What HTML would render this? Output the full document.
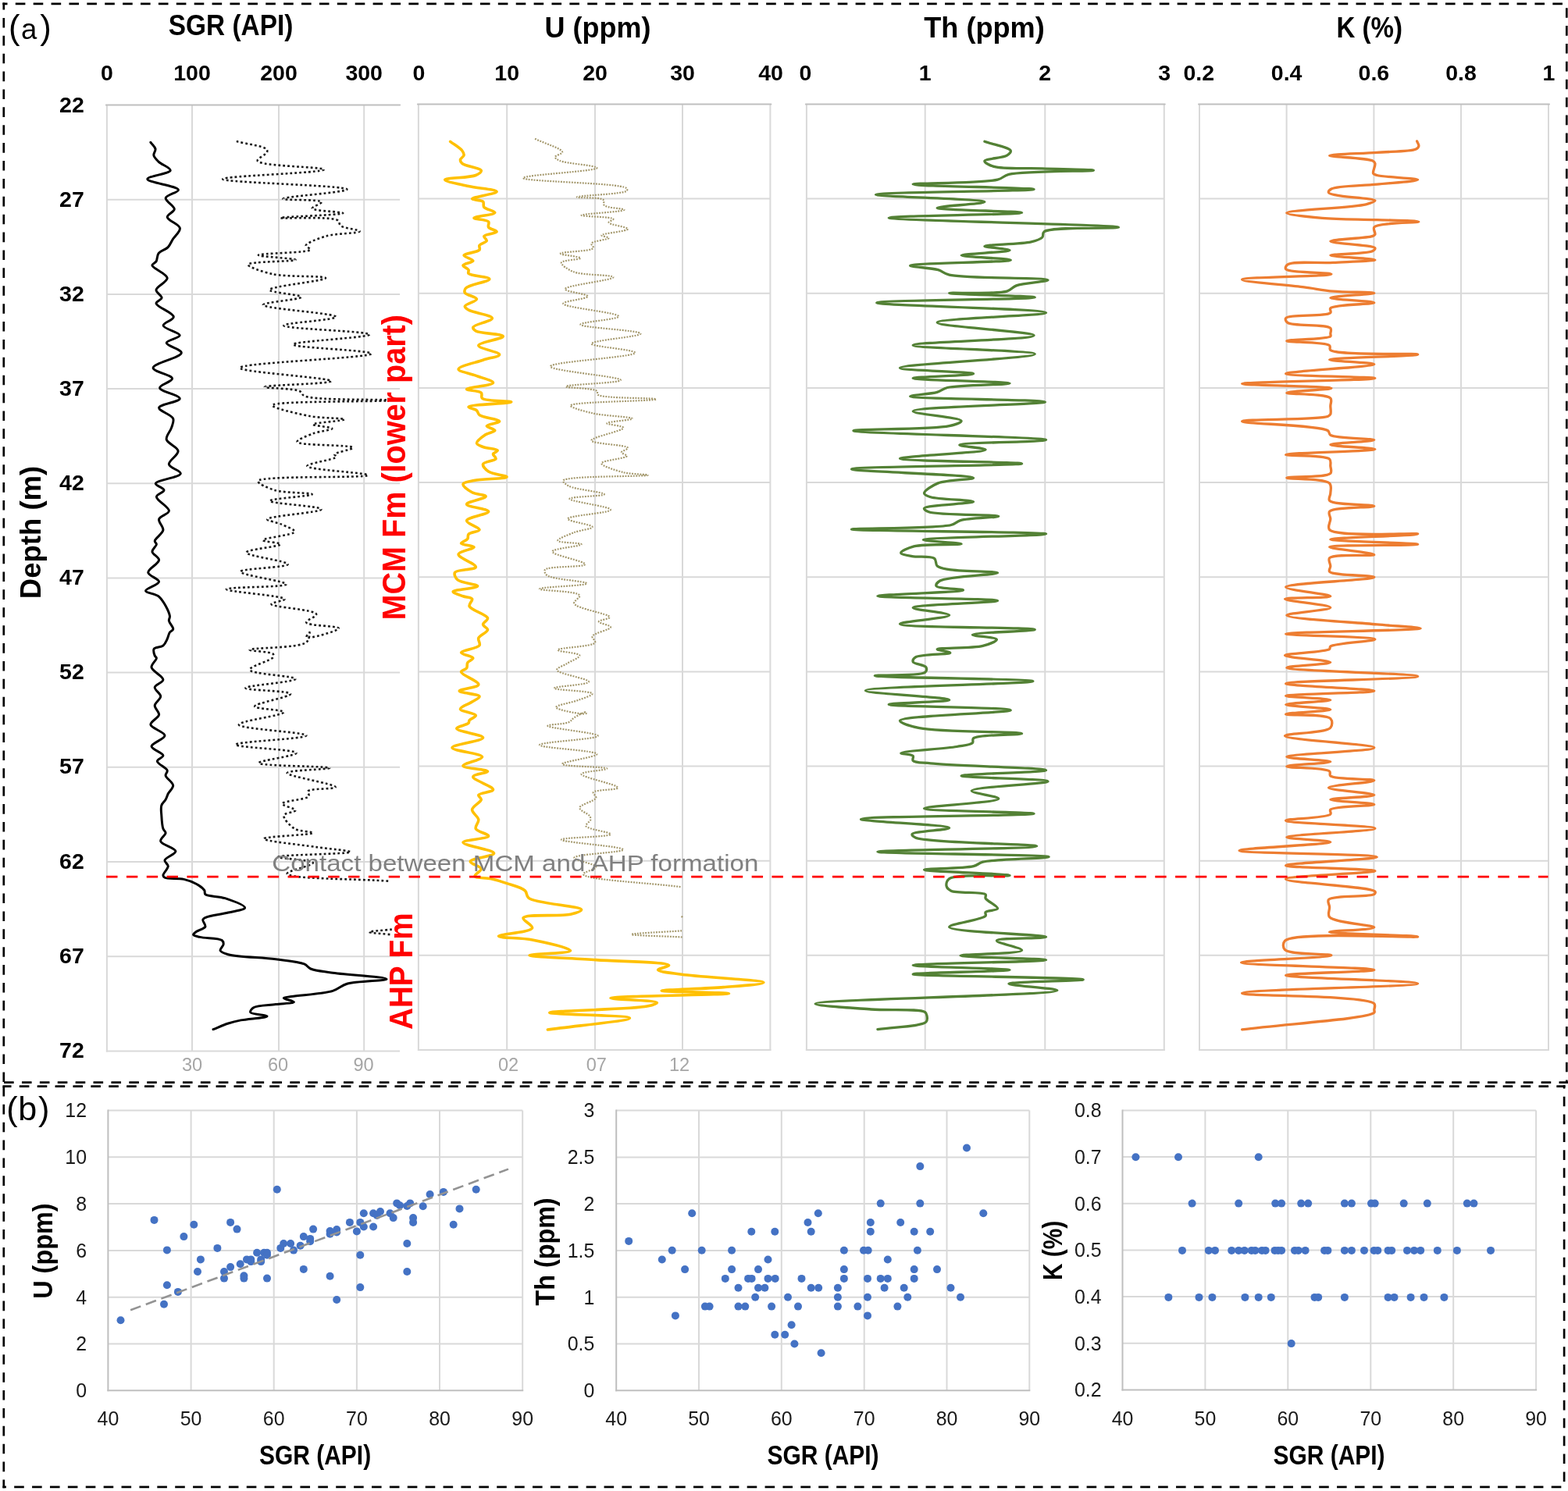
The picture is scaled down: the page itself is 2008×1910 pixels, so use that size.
<!DOCTYPE html><html><head><meta charset="utf-8"><title>SGR figure</title><style>html,body{margin:0;padding:0;background:#fff;}svg{display:block;}text{font-family:'Liberation Sans', Arial, sans-serif;}</style></head><body>
<div id="w"><svg width="2008" height="1910" viewBox="0 0 2008 1910">
<rect width="2008" height="1910" fill="#fff"/>
<line x1="246" y1="134.5" x2="246" y2="1346.4" stroke="#d9d9d9" stroke-width="2"/>
<line x1="357" y1="134.5" x2="357" y2="1346.4" stroke="#d9d9d9" stroke-width="2"/>
<line x1="466.2" y1="134.5" x2="466.2" y2="1346.4" stroke="#d9d9d9" stroke-width="2"/>
<line x1="136.9" y1="255.7" x2="512.1" y2="255.7" stroke="#d9d9d9" stroke-width="2"/>
<line x1="136.9" y1="376.9" x2="512.1" y2="376.9" stroke="#d9d9d9" stroke-width="2"/>
<line x1="136.9" y1="498.1" x2="512.1" y2="498.1" stroke="#d9d9d9" stroke-width="2"/>
<line x1="136.9" y1="619.3" x2="512.1" y2="619.3" stroke="#d9d9d9" stroke-width="2"/>
<line x1="136.9" y1="740.5" x2="512.1" y2="740.5" stroke="#d9d9d9" stroke-width="2"/>
<line x1="136.9" y1="861.6" x2="512.1" y2="861.6" stroke="#d9d9d9" stroke-width="2"/>
<line x1="136.9" y1="982.8" x2="512.1" y2="982.8" stroke="#d9d9d9" stroke-width="2"/>
<line x1="136.9" y1="1104" x2="512.1" y2="1104" stroke="#d9d9d9" stroke-width="2"/>
<line x1="136.9" y1="1225.2" x2="512.1" y2="1225.2" stroke="#d9d9d9" stroke-width="2"/>
<line x1="136.9" y1="134.5" x2="136.9" y2="1347.4" stroke="#d9d9d9" stroke-width="2"/>
<line x1="135.9" y1="1346.4" x2="512.1" y2="1346.4" stroke="#d9d9d9" stroke-width="2"/>
<line x1="135.9" y1="134.5" x2="512.1" y2="134.5" stroke="#bfbfbf" stroke-width="2" stroke-linecap="round"/>
<line x1="649.2" y1="133.4" x2="649.2" y2="1345" stroke="#d9d9d9" stroke-width="2"/>
<line x1="762" y1="133.4" x2="762" y2="1345" stroke="#d9d9d9" stroke-width="2"/>
<line x1="874" y1="133.4" x2="874" y2="1345" stroke="#d9d9d9" stroke-width="2"/>
<line x1="535.9" y1="254.6" x2="986.4" y2="254.6" stroke="#d9d9d9" stroke-width="2"/>
<line x1="535.9" y1="375.7" x2="986.4" y2="375.7" stroke="#d9d9d9" stroke-width="2"/>
<line x1="535.9" y1="496.9" x2="986.4" y2="496.9" stroke="#d9d9d9" stroke-width="2"/>
<line x1="535.9" y1="618" x2="986.4" y2="618" stroke="#d9d9d9" stroke-width="2"/>
<line x1="535.9" y1="739.2" x2="986.4" y2="739.2" stroke="#d9d9d9" stroke-width="2"/>
<line x1="535.9" y1="860.4" x2="986.4" y2="860.4" stroke="#d9d9d9" stroke-width="2"/>
<line x1="535.9" y1="981.5" x2="986.4" y2="981.5" stroke="#d9d9d9" stroke-width="2"/>
<line x1="535.9" y1="1102.7" x2="986.4" y2="1102.7" stroke="#d9d9d9" stroke-width="2"/>
<line x1="535.9" y1="1223.8" x2="986.4" y2="1223.8" stroke="#d9d9d9" stroke-width="2"/>
<line x1="535.9" y1="133.4" x2="535.9" y2="1346" stroke="#d9d9d9" stroke-width="2"/>
<line x1="986.4" y1="133.4" x2="986.4" y2="1346" stroke="#d9d9d9" stroke-width="2"/>
<line x1="534.9" y1="1345" x2="987.4" y2="1345" stroke="#d9d9d9" stroke-width="2"/>
<line x1="534.9" y1="133.4" x2="987.4" y2="133.4" stroke="#bfbfbf" stroke-width="2" stroke-linecap="round"/>
<line x1="1184.7" y1="133.4" x2="1184.7" y2="1345" stroke="#d9d9d9" stroke-width="2"/>
<line x1="1338.3" y1="133.4" x2="1338.3" y2="1345" stroke="#d9d9d9" stroke-width="2"/>
<line x1="1032.9" y1="254.6" x2="1490.8" y2="254.6" stroke="#d9d9d9" stroke-width="2"/>
<line x1="1032.9" y1="375.7" x2="1490.8" y2="375.7" stroke="#d9d9d9" stroke-width="2"/>
<line x1="1032.9" y1="496.9" x2="1490.8" y2="496.9" stroke="#d9d9d9" stroke-width="2"/>
<line x1="1032.9" y1="618" x2="1490.8" y2="618" stroke="#d9d9d9" stroke-width="2"/>
<line x1="1032.9" y1="739.2" x2="1490.8" y2="739.2" stroke="#d9d9d9" stroke-width="2"/>
<line x1="1032.9" y1="860.4" x2="1490.8" y2="860.4" stroke="#d9d9d9" stroke-width="2"/>
<line x1="1032.9" y1="981.5" x2="1490.8" y2="981.5" stroke="#d9d9d9" stroke-width="2"/>
<line x1="1032.9" y1="1102.7" x2="1490.8" y2="1102.7" stroke="#d9d9d9" stroke-width="2"/>
<line x1="1032.9" y1="1223.8" x2="1490.8" y2="1223.8" stroke="#d9d9d9" stroke-width="2"/>
<line x1="1032.9" y1="133.4" x2="1032.9" y2="1346" stroke="#d9d9d9" stroke-width="2"/>
<line x1="1490.8" y1="133.4" x2="1490.8" y2="1346" stroke="#d9d9d9" stroke-width="2"/>
<line x1="1031.9" y1="1345" x2="1491.8" y2="1345" stroke="#d9d9d9" stroke-width="2"/>
<line x1="1031.9" y1="133.4" x2="1491.8" y2="133.4" stroke="#bfbfbf" stroke-width="2" stroke-linecap="round"/>
<line x1="1647.6" y1="133.4" x2="1647.6" y2="1345" stroke="#d9d9d9" stroke-width="2"/>
<line x1="1759.4" y1="133.4" x2="1759.4" y2="1345" stroke="#d9d9d9" stroke-width="2"/>
<line x1="1871" y1="133.4" x2="1871" y2="1345" stroke="#d9d9d9" stroke-width="2"/>
<line x1="1536" y1="254.6" x2="1983" y2="254.6" stroke="#d9d9d9" stroke-width="2"/>
<line x1="1536" y1="375.7" x2="1983" y2="375.7" stroke="#d9d9d9" stroke-width="2"/>
<line x1="1536" y1="496.9" x2="1983" y2="496.9" stroke="#d9d9d9" stroke-width="2"/>
<line x1="1536" y1="618" x2="1983" y2="618" stroke="#d9d9d9" stroke-width="2"/>
<line x1="1536" y1="739.2" x2="1983" y2="739.2" stroke="#d9d9d9" stroke-width="2"/>
<line x1="1536" y1="860.4" x2="1983" y2="860.4" stroke="#d9d9d9" stroke-width="2"/>
<line x1="1536" y1="981.5" x2="1983" y2="981.5" stroke="#d9d9d9" stroke-width="2"/>
<line x1="1536" y1="1102.7" x2="1983" y2="1102.7" stroke="#d9d9d9" stroke-width="2"/>
<line x1="1536" y1="1223.8" x2="1983" y2="1223.8" stroke="#d9d9d9" stroke-width="2"/>
<line x1="1536" y1="133.4" x2="1536" y2="1346" stroke="#d9d9d9" stroke-width="2"/>
<line x1="1983" y1="133.4" x2="1983" y2="1346" stroke="#d9d9d9" stroke-width="2"/>
<line x1="1535" y1="1345" x2="1984" y2="1345" stroke="#d9d9d9" stroke-width="2"/>
<line x1="1535" y1="133.4" x2="1984" y2="133.4" stroke="#bfbfbf" stroke-width="2" stroke-linecap="round"/>
<text x="107.8" y="143.8" font-size="28.5" text-anchor="end" font-weight="bold" fill="#000">22</text>
<text x="107.8" y="264.9" font-size="28.5" text-anchor="end" font-weight="bold" fill="#000">27</text>
<text x="107.8" y="386" font-size="28.5" text-anchor="end" font-weight="bold" fill="#000">32</text>
<text x="107.8" y="507.1" font-size="28.5" text-anchor="end" font-weight="bold" fill="#000">37</text>
<text x="107.8" y="628.2" font-size="28.5" text-anchor="end" font-weight="bold" fill="#000">42</text>
<text x="107.8" y="749.3" font-size="28.5" text-anchor="end" font-weight="bold" fill="#000">47</text>
<text x="107.8" y="870.3" font-size="28.5" text-anchor="end" font-weight="bold" fill="#000">52</text>
<text x="107.8" y="991.4" font-size="28.5" text-anchor="end" font-weight="bold" fill="#000">57</text>
<text x="107.8" y="1112.5" font-size="28.5" text-anchor="end" font-weight="bold" fill="#000">62</text>
<text x="107.8" y="1233.6" font-size="28.5" text-anchor="end" font-weight="bold" fill="#000">67</text>
<text x="107.8" y="1354.7" font-size="28.5" text-anchor="end" font-weight="bold" fill="#000">72</text>
<text x="136.9" y="103.4" font-size="28.5" text-anchor="middle" font-weight="bold" fill="#000">0</text>
<text x="246" y="103.4" font-size="28.5" text-anchor="middle" font-weight="bold" fill="#000">100</text>
<text x="357" y="103.4" font-size="28.5" text-anchor="middle" font-weight="bold" fill="#000">200</text>
<text x="466.2" y="103.4" font-size="28.5" text-anchor="middle" font-weight="bold" fill="#000">300</text>
<text x="536.5" y="103.4" font-size="28.5" text-anchor="middle" font-weight="bold" fill="#000">0</text>
<text x="649.2" y="103.4" font-size="28.5" text-anchor="middle" font-weight="bold" fill="#000">10</text>
<text x="762" y="103.4" font-size="28.5" text-anchor="middle" font-weight="bold" fill="#000">20</text>
<text x="874" y="103.4" font-size="28.5" text-anchor="middle" font-weight="bold" fill="#000">30</text>
<text x="987" y="103.4" font-size="28.5" text-anchor="middle" font-weight="bold" fill="#000">40</text>
<text x="1031.5" y="103.4" font-size="28.5" text-anchor="middle" font-weight="bold" fill="#000">0</text>
<text x="1184.7" y="103.4" font-size="28.5" text-anchor="middle" font-weight="bold" fill="#000">1</text>
<text x="1338.3" y="103.4" font-size="28.5" text-anchor="middle" font-weight="bold" fill="#000">2</text>
<text x="1491.2" y="103.4" font-size="28.5" text-anchor="middle" font-weight="bold" fill="#000">3</text>
<text x="1535.2" y="103.4" font-size="28.5" text-anchor="middle" font-weight="bold" fill="#000">0.2</text>
<text x="1647.6" y="103.4" font-size="28.5" text-anchor="middle" font-weight="bold" fill="#000">0.4</text>
<text x="1759.4" y="103.4" font-size="28.5" text-anchor="middle" font-weight="bold" fill="#000">0.6</text>
<text x="1871" y="103.4" font-size="28.5" text-anchor="middle" font-weight="bold" fill="#000">0.8</text>
<text x="1983.4" y="103.4" font-size="28.5" text-anchor="middle" font-weight="bold" fill="#000">1</text>
<text x="295.6" y="45.4" font-size="37.8" text-anchor="middle" font-weight="bold" fill="#000" textLength="159.5" lengthAdjust="spacingAndGlyphs">SGR (API)</text>
<text x="765.5" y="48" font-size="37.8" text-anchor="middle" font-weight="bold" fill="#000" textLength="136" lengthAdjust="spacingAndGlyphs">U (ppm)</text>
<text x="1260.5" y="48.2" font-size="37.8" text-anchor="middle" font-weight="bold" fill="#000" textLength="154.5" lengthAdjust="spacingAndGlyphs">Th (ppm)</text>
<text x="1753.7" y="48.2" font-size="37.8" text-anchor="middle" font-weight="bold" fill="#000" textLength="84.5" lengthAdjust="spacingAndGlyphs">K (%)</text>
<text x="246" y="1371.5" font-size="23.6" text-anchor="middle" font-weight="normal" fill="#a6a6a6">30</text>
<text x="356" y="1371.5" font-size="23.6" text-anchor="middle" font-weight="normal" fill="#a6a6a6">60</text>
<text x="465.5" y="1371.5" font-size="23.6" text-anchor="middle" font-weight="normal" fill="#a6a6a6">90</text>
<text x="651" y="1371.5" font-size="23.6" text-anchor="middle" font-weight="normal" fill="#a6a6a6">02</text>
<text x="763.8" y="1371.5" font-size="23.6" text-anchor="middle" font-weight="normal" fill="#a6a6a6">07</text>
<text x="870" y="1371.5" font-size="23.6" text-anchor="middle" font-weight="normal" fill="#a6a6a6">12</text>
<text transform="translate(52.3 682) rotate(-90)" x="0" y="0" font-size="37.8" text-anchor="middle" font-weight="bold" fill="#000" textLength="170.5" lengthAdjust="spacingAndGlyphs">Depth (m)</text>
<g>
<path d="M302.8 181.1C315.5 184.4 337.1 187 341 190.9C342.3 192.2 342.5 193.4 342 194.9C341.1 197.9 328.8 203 329.8 206.1C332 213.1 415.1 213.7 415 217.2C414.9 221.5 285.2 225.4 285.2 229.4C285.2 233.9 444.2 237.5 444.4 242.6C444.5 246.3 362.2 251.9 362.3 254.7C362.4 256.8 410.9 255.1 411.9 258.8C412.4 260.8 399.3 264.8 399.8 266.9C400.6 270.5 439.4 271.2 439.3 273C439.2 275.5 359.2 277.6 359.2 279.1C359.2 280.6 423 276.6 432.2 282.1C435.3 284 433.8 287.2 436.3 289.2C440.8 292.7 460.7 294.3 460.6 296.3C460.4 298.9 430.3 298.8 418 302.4C407.9 305.4 392.2 311.1 391.7 314.6C391.4 316.4 398.2 318.2 397.7 319.7C396.4 324 330.8 324.4 330.8 326.8C330.8 328.8 378.5 330.9 378.5 332.8C378.5 335 318.1 334.9 317.6 338.9C317.2 341.9 336.4 348.2 349.1 351.1C367.2 355.2 416.8 352.9 417 356.2C417.2 359.6 345 366.9 345 371.4C345 374.8 385.6 377.4 385.6 380.5C385.6 383.8 336.8 387.1 336.9 390.6C337 395.4 430.2 401.2 430.2 405.9C430.2 409.9 363.2 413.6 363.3 417C363.4 421.3 473.2 424.3 473.3 428.5C473.4 432.5 375.2 437.2 375.2 441.3C375.2 445.4 475.4 448.8 475.4 453C475.4 458.5 307.1 464.7 307 471.2C306.9 476.6 424.3 484 424.2 488.2C424.1 491.8 339 493.2 339 495.7C339 497.5 375.8 497.2 383.7 501C387.2 502.7 386.1 505.6 390.1 507.4C404 513.5 498.9 511 498.9 512.8C498.9 514.9 349.3 513.2 348.6 519.1C348.2 522.5 380.7 530 396.5 533C411.5 535.9 441.2 535.5 441.3 537.3C441.4 539.1 400.9 541.5 400.8 543.7C400.8 545.4 425.3 547.1 425.3 549C425.3 551 408.4 552.4 400.8 555.4C393.5 558.2 380 563.3 380.5 566.1C381.5 571 451.5 569.6 452 573.5C452.3 575.8 429.4 579.2 428.5 582C428.1 583.1 431 584.1 430.6 585.2C429.3 588.7 393 593.6 393.3 597C393.7 601.9 471.3 605.7 471.2 608.7C471 612.8 332.1 608.8 330.4 616.2C329.7 619.3 342.8 625.1 351.7 627.9C364.2 631.8 399.7 631 399.7 633.2C399.8 635.5 345.4 638.7 345.4 641.7C345.4 645 411.4 648.5 411.4 652.4C411.4 656.4 342.5 661.1 342.2 665.2C342 667.4 354.5 668.9 360.3 671.6C366.2 674.3 377.7 678.3 377.3 681.2C376.8 685.4 336.8 689 336.8 691.9C336.8 694 359.2 695.1 359.2 697.2C359.2 700.1 315.6 703.8 315.5 707.8C315.4 712.2 369 718.8 368.8 722.8C368.5 727.1 308.2 728.1 308 732.4C307.8 736.7 367 744.7 366.7 748.4C366.3 752.6 290 751.6 289.9 754.8C289.8 758 364.1 763.2 364.5 767.5C364.7 769.6 347.3 771.7 347.5 773.9C347.8 777.9 403.7 780.8 405.1 786.7C405.9 789.8 391.6 794.6 392.3 797.4C393.5 801.8 433.6 801.7 433.8 804.9C434 808.1 394.1 819.1 392.3 816.6C391.5 815.6 396.2 809.8 396.5 810C396.9 810.2 396.4 819.4 392.3 822.8C382.8 830.7 319.9 829.5 319.8 832.4C319.8 834.3 346.9 834.5 349.6 837.7C350.6 838.9 350.5 840.4 349.6 842C347 846.4 319.2 853.7 319.8 858C320.7 863.7 378.4 865.9 378.4 869.7C378.4 873.7 314.3 878.1 314.4 881.4C314.5 884.5 371.6 884.7 372 888.9C372.4 892.8 325.9 900.9 326.2 904.9C326.4 908.4 363.4 909 363.5 912.3C363.7 916.4 305.6 923.6 305.9 928.3C306.2 933.9 392.4 938 392.3 942.2C392.2 946.5 301.6 950 301.6 953.9C301.6 957.5 379.2 960 379.5 964.6C379.7 968.2 331.2 974.3 331.5 977.4C331.9 981.6 422 981.3 422.1 983.8C422.1 985.7 368 986.4 367.7 990.2C367.4 994.3 429.9 1004.4 429.6 1008.3C429.4 1011.2 397.3 1009.6 394.4 1013.6C393.2 1015.3 396.7 1018.1 395.5 1020C392.7 1024.5 361.6 1026 361.3 1029.6C361.1 1032.2 378.5 1035.5 378.4 1038.1C378.3 1040.5 364.3 1041.1 363.5 1044.5C362.5 1048.5 371.3 1057.9 377.3 1061.6C383.6 1065.5 400.9 1065.2 400.8 1066.9C400.7 1069.6 338 1071.4 337.9 1074.4C337.8 1077.5 385.1 1082.1 405.1 1085.1C421.2 1087.5 448.9 1089.6 448.8 1091.4C448.7 1094.1 356.1 1094.8 356 1097.8C355.9 1099.9 400.3 1101.4 400.8 1105.3C401.2 1108.8 367.1 1115.6 367.7 1119.2C368.8 1126.2 455.8 1125.6 499.9 1128.8" fill="none" stroke="#1a1a1a" stroke-width="2.6" stroke-dasharray="2.8 3.1"/>
<path d="M501.8 1190.6C492.1 1191.7 472.8 1192.9 472.8 1194C472.8 1195.1 492.1 1196.3 501.8 1197.4" fill="none" stroke="#1a1a1a" stroke-width="2.6" stroke-dasharray="2.8 3.1"/>
<path d="M192.9 182.3C194.9 185.2 198.5 187.9 199 190.9C199.5 193.5 196.4 196.4 196.9 199C197.5 201.8 200.3 204.4 203 207.1C206.7 210.8 218.6 214.9 218.2 218.2C217.6 222.5 188.7 225.6 188.8 229.4C188.9 233.8 227.8 238.3 228.4 243.2C228.8 246.5 212.9 249.5 212.2 253.7C211.5 257.8 223.4 263.6 223.3 267.9C223.2 271.6 214 274.5 214.2 278.1C214.5 282.6 229.7 287.2 230.4 292.3C231 296.8 224 302.2 221.3 306.5C219 310.1 218 313.7 215.2 316.6C212.1 319.9 205.5 321.3 203 324.7C200.9 327.6 201.6 332.3 200 334.9C198.7 337.1 194.8 337.8 194.9 339.9C195 343.8 213.9 350.7 214.2 356.2C214.5 361.2 200.3 366.7 200 371.4C199.7 375 207.4 378.5 207.1 381.5C206.9 384.2 199.8 385.8 200 388.6C200.3 393.2 222.2 400.7 222.3 405.9C222.4 410 208.8 413.4 209.1 417C209.4 421.3 230.2 425.7 230.2 429.6C230.2 433.1 213.3 435.6 213.2 439.2C213.1 443.1 232.5 447.5 232.3 452C232 458 196.2 465.3 196.1 471.2C196 476.1 220.3 480.4 220.6 485C220.8 488.9 204.3 492.9 204.6 496.8C204.9 501.5 230.4 506.3 230.2 510.6C230 514.8 204.2 517.7 203.6 522.3C203.1 526.4 219.7 531.1 221.7 536.2C223.1 539.9 220.8 543.8 219.6 547.9C218.2 552.7 212.3 558.2 213.2 562.9C214.2 568.2 227.6 572.5 228.1 577.8C228.6 583.1 215.7 589.9 216.4 594.8C217.1 599.5 231.8 603 231.3 606.6C230.6 611.5 199.9 615 199.3 619.4C198.9 622.2 209.9 625 210 627.9C210.1 630.7 200.6 632.9 200.4 636.4C200.1 641.2 216.8 649.4 216.4 654.5C216.1 658.7 204.7 660.9 203.6 665.2C202.6 669.2 209.6 674.7 208.9 679.1C208.2 683.9 198.5 689.5 198.2 692.9C198 694.7 200.4 695.5 200.4 697.2C200.3 699.8 194.7 703.6 195 706.8C195.3 710.3 203.7 713.5 203.6 717.4C203.5 722.2 189.3 728.6 189.7 733.4C190 737.8 203.8 741.4 203.6 745.2C203.4 749.3 186.2 753.7 186.5 756.9C186.8 760 198.8 760 203.6 764.3C209.5 769.7 216.4 783.2 217.4 788.9C217.9 791.6 216 793 216.4 795.3C216.9 798.5 222.2 803.3 221.7 805.9C221.4 807.7 218.6 808.2 217.4 810C215.9 812.2 215.6 815.7 214.2 818.5C212.8 821.4 211.5 825 208.9 827.1C206 829.4 198.8 828.8 197.2 831.3C195.9 833.4 197.4 837.8 198.2 839.9C198.7 841.3 200.3 841.6 200.4 843C200.6 845.6 193.5 850.8 194 854.8C194.7 860 209.1 866.2 208.9 870.8C208.7 874.5 198.7 876.8 198.2 880.4C197.7 883.9 205.7 888.2 205.7 892.1C205.7 896 198.5 899.8 198.2 903.8C197.9 907.6 204.1 911.7 203.6 915.5C203 919.9 192.4 924.2 192.9 928.3C193.4 933.1 210.9 937.5 211 942.2C211.1 946.8 194 951.7 194 956.1C194 960.2 208.7 964.2 208.9 967.8C209.1 970.5 201.4 972.5 201.4 975.2C201.5 978.7 213.3 983.4 214.2 987C214.8 989.3 211.7 991 212.1 993.4C212.7 997.1 221.5 1002.1 221.7 1006.2C221.9 1009.8 217 1013.5 215.3 1016.8C213.9 1019.5 213.5 1021.9 212.1 1024.3C210.7 1026.9 207.8 1028.7 206.8 1031.7C205.7 1035.2 206.5 1039.9 206.8 1044.5C207.1 1049.8 207.5 1057.6 208.9 1061.6C209.7 1064 212.1 1064.8 212.1 1066.9C212.1 1069.8 204.9 1074.2 205.7 1077.6C206.7 1082.2 224.7 1086.1 224.9 1090.4C225.1 1094.2 211.7 1098.4 211 1102.1C210.5 1104.7 215.3 1106.8 215.3 1109.6C215.3 1113.1 208.7 1118.7 208.9 1121.3C209 1122.7 209.7 1123.5 211.1 1124.3C214.7 1126.3 228.3 1124.8 235.5 1126.4C241.6 1127.8 247.1 1129.9 251.7 1132.5C255.7 1134.8 260.1 1137.9 261.8 1140.6C262.8 1142.3 261.5 1144.2 262.9 1145.6C266.1 1148.7 279.9 1147.9 288.2 1150.7C296.8 1153.6 313.9 1159.8 313.6 1162.9C313.4 1165.7 299.9 1167.1 292.3 1169C283.5 1171.2 269 1172.8 263.9 1175.1C261.8 1176.1 260.3 1176.6 259.8 1178.1C259.1 1180.2 263.9 1184.8 262.9 1187.2C261.8 1190 254.4 1191.3 251.7 1193.3C249.9 1194.7 247.4 1196.3 247.6 1197.4C247.9 1198.8 252.2 1199.5 255.8 1200.4C262.4 1202.1 280.3 1201.4 284.2 1204.5C285.9 1205.8 286.3 1207.7 286.2 1209.5C286.1 1211.9 281.4 1215.5 282.1 1217.6C282.9 1220 287.3 1221.2 292.3 1222.7C303.9 1226.1 335.4 1226.4 353.1 1228.8C366.8 1230.6 382 1231.7 389.6 1234.9C393.6 1236.6 394 1239.4 397.7 1241C403.8 1243.7 413.1 1244.3 424.1 1246C442 1248.7 495.1 1251.7 495.1 1254.2C495.1 1256.3 456.8 1256.5 444.4 1260.2C436.5 1262.6 434 1266.9 426.1 1269.4C413.3 1273.4 384.1 1274.7 373.4 1276.5C368.7 1277.3 363.4 1277.5 363.3 1278.5C363.2 1279.7 376.7 1282.3 376.5 1283.6C376.3 1285.3 361.3 1285.5 353.1 1286.6C344.1 1287.8 329.6 1287.6 324.7 1290.7C322.2 1292.3 320 1295.2 320.7 1296.8C321.8 1299.6 342.1 1300.3 342 1301.8C341.9 1303.7 317.6 1305.1 308.5 1306.9C302.1 1308.2 297.9 1309.2 292.3 1311C286.1 1313 279.4 1316.1 273 1318.7" fill="none" stroke="#000" stroke-width="3.0" stroke-linejoin="round" stroke-linecap="round"/>
<path d="M685.1 177.8C696.8 183.5 719.8 190.3 720.1 194.8C720.3 197.2 710.9 199.1 710.8 201.1C710.7 202.7 713.5 204.3 716.6 205.8C724.6 209.5 764.5 212 764.4 215.1C764.3 219.4 669.9 224 670 228C670.1 232.7 793.6 234.2 801.8 240.8C803.2 241.9 803.6 243.2 802.9 244.3C800 248.8 738.8 250.4 738.8 252.5C738.8 254 768.5 252.1 772.6 256C774.5 257.8 772 261.1 773.8 263C777.2 266.6 799.5 267 799.4 268.8C799.3 271.4 744.6 273.7 744.6 275.8C744.6 277.6 784.5 277.5 785.4 280.5C785.8 281.8 779.3 283.6 779.6 285.1C780.1 287.9 804.2 290.8 804.1 293.3C804 296.3 770.4 299 770.3 301.4C770.2 302.7 779.6 303.6 779.6 304.9C779.5 306.9 758.9 308.6 757.4 311.9C756.6 313.6 760.7 316.1 759.8 317.8C757.4 322.1 717.9 322.4 717.8 324.8C717.7 326.7 743.4 328.6 743.4 330.6C743.4 332.5 719.6 333.1 718.9 336.4C718.3 339.3 727 345.1 734.1 348.1C745.7 353 785.2 351.7 785.4 355.1C785.6 358.9 723.8 365.6 723.6 370.3C723.5 373.6 752.8 376.6 752.8 379.6C752.8 382.8 721.2 385.6 721.3 388.9C721.4 393.9 792.4 400.5 792.4 405.3C792.4 409.2 743.3 412.4 743.4 415.7C743.5 419.8 820.3 423.1 820.4 427.4C820.5 431.3 757.4 436 757.4 440.2C757.4 444.2 813.5 447.9 813.4 451.9C813.3 457.5 705 463.3 704.9 469.4C704.8 475 795 482.5 794.8 486.9C794.7 490.7 724.8 492.5 724.8 495.1C724.8 497.1 760.1 497.1 764.4 500.9C765.9 502.2 764 504.3 765.6 505.6C771.9 510.9 840.2 509.3 840.2 511.4C840.2 513.9 731.3 514.4 730.6 519.5C730.3 522.1 747.7 526.7 758.6 529.3C773 532.8 809.8 533.9 809.9 536.3C809.9 538.2 777.4 540 777.3 542.2C777.2 544 798.2 545.3 798.3 548C798.5 551.9 757 560.1 757.4 564.3C757.8 568.7 803.3 569.8 804.1 573.7C804.5 575.5 795.9 577.7 795.9 579.5C795.9 581.1 803.1 582.6 802.9 584.1C802.4 587.2 770.5 589.9 770.3 593.5C770.1 596.9 788.5 602.6 798.3 605.1C808.3 607.7 829.7 607.4 829.7 608.6C829.6 610.8 723.7 609.1 721.3 615.6C720.6 617.6 724.5 620.5 728.3 622.6C736.6 627.2 773.9 630.4 773.8 633.1C773.7 635.8 729.6 636 729.4 639C729.2 642.4 782 648.8 781.9 653C781.8 657.3 727.3 660.3 727.1 664.6C726.9 667.9 758.6 672 758.6 675.1C758.6 677.7 742.7 679.1 735.3 682.1C728 685 713.9 690.1 714.3 692.6C714.7 695.5 744.5 695.2 744.6 697.3C744.7 699.7 707.6 702.6 707.3 706.6C707 711 749.8 719 749.3 722.9C748.8 727 701.1 724.8 697.9 729.9C696.7 731.8 698 734.8 700.3 736.9C706.5 742.4 751.7 744.5 751.6 747.4C751.5 750.5 691.1 751.7 691 754.4C690.9 756.9 739.8 756.9 742.3 762.6C743.5 765.4 734.2 769.8 735.3 773.1C737.4 779.6 780.7 786.3 780.8 790.6C780.8 793 766.8 794.3 766.8 796.4C766.8 798.6 781.9 800.7 781.9 803.4C782 806.8 760.2 810.7 758.6 815.1C757.7 817.6 763.3 820.9 762.1 823.2C759.3 828.6 714.4 829.5 714.3 832.6C714.2 835 741.7 836.2 742.3 839.6C742.8 842.4 731 846.8 725.9 850.1C721.4 853 712.8 855.4 713.1 858.2C713.6 863 754.2 869.5 753.9 873.4C753.6 877.4 709.5 879.1 709.6 881.6C709.7 884.2 758.1 885 758.6 888.6C758.9 890.8 747.8 894.1 741.1 896.7C732.7 900 711.8 903.3 711.9 906.1C712.1 909.3 748.1 916.1 750.4 914.2C750.9 913.8 750.8 912.6 750.4 912.3C749.1 911.5 739.2 916.8 735.3 919.3C732.4 921.2 731.7 923.6 728.3 925.2C722.5 927.9 701.4 927.8 701.4 929.8C701.4 932.9 765.7 938.7 765.6 942.7C765.5 947 691 950.4 691 954.3C691 958.2 764.1 961.3 764.4 966C764.6 969.7 719.8 975.7 720.1 978.8C720.4 982.2 777.2 982 777.3 984.6C777.4 986.6 744.9 988.2 744.6 991.6C744.3 995.8 791.6 1005.1 791.3 1009.1C791 1012.3 761.7 1011.2 759.8 1015C758.9 1016.9 764 1019.6 763.3 1022C762.1 1026.2 742.6 1030.5 742.3 1034.8C742.1 1038.3 753.1 1042.2 755.1 1045.3C756.2 1047 756.6 1048.3 756.3 1050C755.8 1052.4 749.6 1055.7 750.4 1058.1C751.8 1062.5 782.2 1065.9 781.9 1068.6C781.5 1072.4 719 1072.6 718.9 1075.6C718.8 1079 798.3 1084.3 798.3 1088.4C798.3 1092 735.9 1094.1 735.3 1098.9C734.9 1102.2 763.1 1106.7 763.3 1110.6C763.5 1113.7 746.3 1117.1 746.9 1119.9C748.3 1127.2 830.9 1130.8 872.9 1136.3" fill="none" stroke="#a3976b" stroke-width="2.2" stroke-dasharray="1.9 1.55"/>
<path d="M873 1192.3C851.6 1193.9 808.7 1195.6 808.7 1197C808.7 1198.4 852.2 1199.3 874 1200.5" fill="none" stroke="#a3976b" stroke-width="2.2" stroke-dasharray="1.9 1.55"/>
<path d="M872.9 1173.5 L874.5 1176.5" fill="none" stroke="#a3976b" stroke-width="2.2" stroke-dasharray="1.9 1.55"/>
<path d="M576.7 181.3C581.7 185.2 589.1 189.4 591.8 193C593.3 195 594.4 196.9 594.1 198.8C593.8 200.8 589.7 202.7 589.5 204.6C589.3 206.2 590.1 207.8 591.8 209.3C595.5 212.7 615.7 215.4 616.3 218.6C616.6 220.5 612.9 222.9 609.3 224.5C601.7 227.9 569.9 227.8 569.7 230.3C569.6 232.6 589.4 236 600 238.5C611.5 241.2 636 242.7 636.1 245.5C636.2 248.2 604.6 252.5 604.6 254.8C604.6 256.3 616.3 255.9 618.6 258.3C620.2 260 618.3 263.3 619.8 265.3C622 268.3 634 270.2 633.8 272.3C633.5 275.1 607 277.2 607 279.3C607 281 623.3 281 625.6 284C627 285.8 624.4 289 625.6 291C627.1 293.6 636.2 295 636.1 296.8C635.9 298.9 620.7 300 619.8 302.6C619.2 304.3 623.7 306.6 623.3 308.4C622.8 310.6 615.3 311.9 614 314.3C613.1 316 615.2 318.4 614 320.1C611.7 323.3 594.4 324.5 594.1 327.1C593.9 329.2 605.9 332 605.8 334.1C605.7 336.3 593.3 337.7 593 339.9C592.8 341.7 599 343.7 600 345.8C600.7 347.3 598.9 349 600 350.4C602.6 353.7 626.6 354.5 626.8 357.4C627 360.6 600.2 364.8 596.5 369.1C594.9 371 594.5 373.1 595.3 374.9C596.7 378 610.4 380.2 610.5 383.1C610.6 386 595.6 389.6 595.3 392.4C595.1 394.1 597.5 395.5 600 397.1C605.5 400.6 630.1 403.7 630.3 407.6C630.5 411.2 606.7 415.7 605.8 419.2C605.4 420.8 607.1 422.5 609.3 423.9C614.7 427.3 644 427.7 644.3 430.9C644.5 434 612.9 438.6 612.8 442.6C612.7 446.4 639.7 451 639.6 454.2C639.5 457 626.3 458.5 618.6 461.2C609.1 464.5 587.1 469.3 587.1 472.9C587.1 475.9 601.9 478.2 609.3 481.1C616.7 484 631.7 487.7 631.5 490.4C631.2 493.7 597.6 496.3 597.6 498.6C597.6 500.3 613.5 500.2 616.3 503.2C618 505 615.6 508.4 617.5 510.2C621.9 514.4 654.8 513.3 654.8 514.9C654.8 516.9 600.4 518.2 600 521.2C599.8 522.6 608.1 523.7 610.5 525.8C612.3 527.4 611.8 529.9 614 531.7C618.4 535.2 639.5 537.2 639.6 539.8C639.6 541.9 623.5 543.5 623.3 545.7C623.2 547.5 633.9 549.6 633.8 551.5C633.7 553.5 624.8 554.6 621 557.3C617.1 560 610.2 565.2 610.5 567.8C610.8 569.9 615.2 571.1 618.6 572.5C623.4 574.5 636.8 575 637.3 577.1C637.6 578.4 631.8 580 631.5 581.8C631.2 583.5 635.6 585.9 635 587.6C634.1 590.4 619.5 591.4 618.6 594.6C617.9 597.2 622 601.5 625.6 604C630.8 607.6 649.2 609.2 649 611C648.8 613.4 617.2 613.4 607 615.6C601 616.9 593.5 617.8 593 620.3C592.5 622.8 600 628.2 604.6 630.8C609.6 633.6 622 633.7 622.1 635.9C622.2 638.5 597.5 642.8 597.6 646C597.7 649.3 625.5 651.8 625.6 655.3C625.7 658.8 598.1 662.6 597.6 667C597.2 670.6 614.3 675.6 614 678.6C613.7 681.2 602.2 681.8 600 684.5C598.6 686.2 599.9 688.6 598.8 690.3C597.3 692.6 590.3 694.5 590.6 696.1C591 698.2 606.8 698.7 607 700.8C607.2 703.2 587.5 706.2 587.1 710.1C586.7 714.5 610 722.5 609.3 726.4C608.6 730.3 584.6 729.3 582.5 733.4C581.2 735.9 583.3 740.2 586 742.8C590.4 747 611.7 748.5 611.6 750.9C611.5 753.6 580.5 755.2 580.2 757.9C580 759.7 588.8 762.2 593 763.8C596.9 765.3 603.4 764.9 604.6 767.3C605.7 769.4 600.1 773.5 601.1 776.6C602.8 781.7 623.6 787.1 624.5 791.8C625 794.6 618.5 797.3 618.6 799.9C618.7 802.4 624.7 804.4 624.5 806.9C624.3 810.1 614.2 813.6 612.8 817.4C611.7 820.3 615.6 824.1 614 826.7C611.5 831 590.7 833.1 590.6 836.1C590.5 838.5 605.5 840.6 605.8 843.1C606 844.9 600.1 846.6 598.8 848.9C597.6 850.9 598.8 854 597.6 855.9C596.3 858 590.6 858.5 590.6 860.6C590.5 864.4 613.4 872.8 612.8 876.9C612.2 880.9 588.2 882.6 588.3 885.1C588.4 887.7 613.4 889.1 614 892.1C614.4 894.1 608.2 896.7 604.6 899.1C600.2 902.1 589.3 905.6 589.5 908.4C589.8 911.5 608.9 913.6 609.3 916.5C609.6 918.5 602.5 920.8 601.1 922.8C600.3 924 601 925.2 600 926.3C597.9 928.7 584.7 930.8 584.8 933.3C585 936.9 618.6 941.1 618.6 945C618.6 949.2 579 953.7 579 957.8C579 961.8 617.2 965.2 617.5 969.5C617.8 973.1 592.7 978.1 593 981.1C593.4 984.4 624.3 985.4 624.5 988.1C624.6 990.2 606.1 991.8 605.8 995.1C605.4 999.1 631.9 1007.5 631.5 1011.5C631.2 1014.8 613.8 1015.5 612.8 1018.5C612.2 1020.2 616.5 1022.1 616.3 1024.3C615.9 1027.8 605 1032.7 604.6 1037.1C604.2 1041.3 612.2 1045.7 612.8 1050C613.3 1053.8 608 1058.3 609.3 1061.6C610.9 1065.7 626 1068.3 625.6 1071C625.1 1074.6 593.2 1075.7 593 1079.1C592.8 1082.9 632.6 1088.8 632.6 1093.1C632.6 1096.9 602.8 1099.6 602.3 1103.6C601.9 1106.5 615.8 1109.5 616.3 1112.9C616.7 1115.8 607.3 1120.1 608.1 1122.3C609.1 1125.1 622.2 1124.2 629.1 1125.8C635.9 1127.3 642.2 1129.2 649 1131.6C656.5 1134.2 667.8 1136.7 672.3 1140.9C675.2 1143.6 673.4 1147.5 677 1150.3C686.2 1157.5 744.2 1160.9 744.6 1165.4C744.8 1167.5 737.1 1169.7 730.6 1171.3C717.6 1174.4 672.3 1170.1 670 1175.9C668.8 1179 682.7 1185.2 681.6 1188.7C679.9 1194.3 638.3 1196.7 638.5 1199.2C638.7 1201.7 666.9 1201 681.6 1203.9C697.5 1207 730.9 1214.6 730.6 1217.9C730.3 1221.3 678.1 1221.9 678.1 1223.7C678.1 1225.9 734.3 1227.5 763.3 1229.6C793.7 1231.8 855.9 1232.5 856.6 1236.6C856.9 1238.2 842.4 1240.7 842.6 1242.4C842.8 1244.8 859.7 1246.3 872.9 1248.2C897.3 1251.7 977.9 1255.6 977.9 1258.7C977.9 1260.9 945.5 1263 926.5 1264.6C902.9 1266.6 847.2 1267.9 847.2 1269.2C847.2 1270.6 933.5 1271.4 933.5 1272.7C933.5 1274.4 782 1275.9 781.9 1278.6C781.9 1280.3 841 1281.6 841.4 1284.4C841.6 1285.8 835.2 1287.7 828.6 1289.1C808.6 1293.3 703.8 1294.6 703.8 1297.2C703.8 1299.6 806.3 1300.6 806.4 1304.2C806.5 1307.8 736.4 1314.1 701.4 1319" fill="none" stroke="#ffc000" stroke-width="3.6" stroke-linejoin="round" stroke-linecap="round"/>
<path d="M1260.9 181.2C1272 185.2 1293.1 189 1294.3 193.2C1294.8 195.1 1292.2 197.4 1289.5 199.1C1284.2 202.5 1261.3 203.3 1260.9 206.3C1260.6 208.4 1267 211.7 1272.9 213.4C1285.3 217 1313.9 215 1334.8 215.8C1356.3 216.6 1400.4 217.2 1400.4 218.2C1400.4 219.5 1310.9 218.7 1291.9 223.4C1284.6 225.2 1284.9 228.3 1277.6 230.1C1258.6 234.9 1169.2 234.2 1169.2 236.1C1169.2 238.4 1324.1 240.5 1324.1 242.5C1324.1 244.8 1121.6 246.1 1121.5 249.2C1121.5 251.8 1260.8 255.1 1260.9 258.7C1261 261.1 1200.1 264.2 1200.2 266.3C1200.3 269.1 1308.6 270.6 1308.6 272.5C1308.6 274.9 1138.2 276.4 1138.2 279C1138.2 282.4 1432.5 287.8 1432.5 291.3C1432.5 293.3 1346.4 289.8 1337.2 296.8C1334.6 298.8 1336.6 302 1334.8 304C1332.2 306.8 1327.1 308.3 1320.5 309.9C1307.6 313.1 1261 313.2 1260.9 315.4C1260.8 317 1293.2 319 1293.1 320.7C1293 323 1231.1 325 1231.1 327.1C1231.1 329.2 1294.3 331.2 1294.3 333.1C1294.2 335.8 1165.8 337.1 1165.6 340.2C1165.5 341.8 1192.3 343 1201.4 345.7C1207.4 347.5 1208.3 350.3 1215.7 352.1C1236.7 357.2 1341.8 355.3 1342 358.8C1342.1 360.8 1310.8 362.4 1301.5 365.9C1296.1 367.9 1295.5 371.3 1289.5 373.1C1275.6 377.2 1215.7 374.4 1215.7 375.5C1215.7 376.9 1325.3 379.2 1325.3 381C1325.3 383.4 1122.7 384.7 1122.7 387.9C1122.7 391.2 1339.5 395.7 1339.6 400.5C1339.7 404.3 1200.3 408 1200.2 413.1C1200.1 417.9 1324.2 425.1 1324.1 429.8C1324 435 1169.2 438.2 1169.2 442.2C1169.2 446.2 1325.2 448.9 1325.3 453.6C1325.4 458.5 1152.4 466.9 1152.5 471.3C1152.5 474.6 1246.6 476.4 1246.6 478.7C1246.6 480.8 1169.2 482.7 1169.2 484.6C1169.2 486.9 1293.1 488.9 1293.1 491.1C1293.1 492.9 1228.5 492.8 1213.3 496.5C1206.9 498.1 1205.7 500.7 1200.2 502.3C1191.5 504.8 1165.5 506.1 1165.6 507.7C1165.8 511.2 1338.4 511.7 1338.4 514.9C1338.4 518.1 1169.6 521.1 1169.2 526.8C1169 530.3 1230.7 534.9 1231.1 539.1C1231.3 541.3 1223.5 543.9 1215.7 545.7C1194.5 550.6 1092.9 549.4 1092.9 551.7C1092.9 555 1339.6 560.1 1339.6 563.6C1339.6 565.9 1229 566.9 1228.8 570C1228.7 571.7 1262.2 574 1262.1 576C1262 579.7 1152.4 584.5 1152.5 587.4C1152.6 590.8 1308.6 591.8 1308.6 593.9C1308.6 596.4 1090.6 597.5 1090.5 601C1090.4 603.9 1246.4 608.2 1246.6 612.2C1246.7 614.4 1212.6 614.3 1201.4 618.9C1193.6 622.1 1183.3 628.8 1183.5 632C1183.6 634.1 1187.6 635.4 1191.8 636.8C1201.9 640.1 1246.6 640.4 1246.6 642.7C1246.6 645.1 1184.6 647 1183.5 651.1C1183.1 652.5 1185.9 654.5 1189.4 655.8C1201.4 660.4 1278.7 659.1 1278.8 661.3C1278.8 662.9 1240.6 663.5 1230 666.6C1224.5 668.2 1224.4 670.9 1218 672.5C1198.3 677.5 1090.5 676.3 1090.5 678C1090.5 680.3 1339.6 681.3 1339.6 684C1339.6 686.1 1182.4 688.7 1182.3 691.6C1182.3 693.2 1231.1 695.4 1231.1 696.8C1231.1 698.3 1184.1 696.3 1170.4 699.9C1162.8 701.9 1153.5 706.1 1153.7 708.3C1153.9 710.2 1162.4 711.5 1168 712.6C1175.8 714.1 1191.8 711.7 1196.6 715.4C1199.5 717.6 1197.7 722.7 1200.2 725C1203.3 727.9 1208.7 728.4 1215.7 729.7C1229.4 732.2 1277.5 731.6 1277.6 733.8C1277.7 736.2 1213.4 738.1 1203.7 744C1200.5 746 1198.2 748.9 1199 750.7C1200.6 754.4 1233.6 754.3 1233.5 755.9C1233.4 758.8 1123.9 761.4 1123.9 763.6C1123.9 766.1 1277.5 766.6 1277.6 769.5C1277.7 771.9 1169.4 774.5 1169.2 778.6C1169 781.3 1215.7 784.9 1215.7 788.1C1215.7 791.8 1152.3 796.4 1152.5 799.3C1152.8 804 1325.2 803.6 1325.3 806.5C1325.3 808.5 1245.6 810.3 1245.4 813.1C1245.3 814.9 1276 816.3 1276.4 819.1C1276.7 821.3 1266.5 825.3 1258.6 827.4C1245 831 1200.4 829.4 1200.2 831.7C1200.1 833 1216.9 834.9 1216.8 836.3C1216.6 838.5 1179.1 837.6 1172.8 841.7C1170.3 843.3 1168.6 845.9 1169.2 847.7C1170.1 850.6 1184.2 851.7 1185.9 854.8C1186.9 856.7 1186.7 859.5 1184.7 861.3C1178.5 866.8 1120.3 864.2 1120.3 865.6C1120.3 868.1 1322.9 869.6 1322.9 872.7C1322.9 875.9 1108.5 879.7 1108.4 884.6C1108.3 888.1 1215.8 893.4 1215.7 896.5C1215.7 899.1 1138.2 900.6 1138.2 902.5C1138.2 905.2 1294.2 906.1 1294.3 909.7C1294.4 913.1 1153.4 916.7 1152.5 923.1C1152.1 925.9 1165.6 930.1 1177.5 932.6C1203.8 938.2 1308.5 937.1 1308.6 939.8C1308.6 941.6 1252.5 940.4 1246.6 945.7C1244.7 947.4 1246.9 950.1 1245.4 951.7C1242.6 954.7 1234.1 954.9 1225.2 956.5C1208.7 959.4 1153.8 962.2 1153.7 964.8C1153.6 966 1167.2 965.9 1169.2 968.4C1170.4 969.9 1167.9 972.8 1169.2 974.3C1171.7 977.3 1180.9 976.7 1191.8 977.9C1219.5 980.9 1339.6 983.8 1339.6 986.7C1339.6 989.2 1231.1 991.5 1231.1 993.9C1231.1 996.3 1341.9 997.7 1342 1001C1342.1 1004.1 1244.7 1008 1244.3 1013C1244 1016 1279 1020.1 1278.8 1023.2C1278.4 1028.2 1183.4 1032.5 1183.5 1035.6C1183.7 1039.3 1324.1 1040.2 1324.1 1042.3C1324.1 1044.9 1102.6 1045.4 1102.5 1049.4C1102.4 1052.3 1215.6 1056.7 1215.7 1060.6C1215.8 1063.2 1169.2 1064.7 1168 1068.5C1167.5 1069.9 1169.6 1071.8 1172.8 1073.3C1188.1 1080.2 1327.7 1081.1 1327.7 1084C1327.6 1087.3 1123.9 1088.8 1123.9 1091.1C1123.9 1093.4 1343.1 1094.8 1343.2 1097.8C1343.2 1099.6 1273.8 1100.3 1258.6 1104.2C1252.6 1105.8 1252.4 1108.2 1246.6 1109.7C1234 1112.9 1183.5 1112.6 1183.5 1114.2C1183.5 1116.4 1293.1 1119.4 1293.1 1121.4C1293.1 1123.1 1225 1118.9 1215.7 1125.7C1212.3 1128.2 1211.5 1132.5 1212.1 1135.2C1212.6 1137.6 1214.7 1139.6 1218 1141.2C1225.6 1144.9 1258.5 1141.9 1262.1 1145.9C1263.3 1147.2 1261.3 1148.9 1262.1 1150.7C1263.8 1154.3 1278.2 1160.8 1277.6 1163.8C1277.1 1166.5 1263.9 1166.1 1262.1 1168.6C1261.1 1169.9 1263.2 1171.8 1262.1 1173.3C1258.4 1178.3 1215.3 1183.6 1215.7 1187.6C1216.3 1193.9 1339.6 1197.3 1339.6 1200.3C1339.6 1202.5 1277 1201.1 1276.4 1205C1276 1207.9 1309 1214.3 1308.6 1217.4C1307.9 1222.1 1230 1222.2 1230 1224.1C1230 1226.4 1339.6 1227.9 1339.6 1229.8C1339.6 1232.1 1169.2 1234.2 1169.2 1236.5C1169.2 1238.5 1293.1 1240.6 1293.1 1242.5C1293.1 1244.4 1169.2 1246.1 1169.2 1247.9C1169.2 1250.3 1387.2 1252.3 1387.2 1254.9C1387.2 1256.6 1292 1257.6 1291.9 1260.3C1291.8 1262.5 1354 1266 1353.9 1268.7C1353.7 1274.8 1044.2 1280.6 1044.1 1285.8C1044 1288.3 1091.9 1291.2 1115.6 1293C1138.8 1294.8 1177.4 1291.7 1184.7 1296.7C1186.8 1298.1 1186.8 1300.1 1187.1 1302C1187.4 1304.2 1188 1307.1 1185.9 1309.1C1179.8 1315.1 1144.6 1315.4 1123.9 1318.6" fill="none" stroke="#538135" stroke-width="3.3" stroke-linejoin="round" stroke-linecap="round"/>
<path d="M1814.6 180.9C1815.4 183 1817.2 185.3 1816.9 187.1C1816.6 188.7 1815.6 190 1813.4 191.1C1806.6 194.5 1780.8 194 1763.3 195.3C1744 196.7 1702.6 197.5 1702.6 199.3C1702.6 201 1750.2 202.3 1757.4 205.8C1759.6 206.8 1760.4 207.6 1760.9 209.3C1761.8 212.1 1757.4 219.7 1758.6 222.1C1759.4 223.6 1760.8 223.7 1763.3 224.5C1771.3 226.9 1815.7 228.4 1815.7 230.3C1815.7 232.2 1781.2 234.2 1763.3 236.1C1744.4 238.1 1712.4 237.8 1704.9 242C1702.6 243.3 1701 245.4 1701.4 246.6C1701.9 248.3 1707 249 1711.9 250.1C1722.2 252.5 1760.6 254.2 1760.9 257.1C1761.1 258.5 1755.2 260.3 1749.3 261.8C1732.3 266.1 1647.9 269.4 1647.8 272.8C1647.8 275.1 1676.5 277.8 1693.3 279.3C1714.1 281.1 1741.5 280.8 1763.3 281.6C1782.4 282.3 1816.8 282.5 1816.9 284C1817 285.6 1764.6 284.9 1759.8 291C1757.9 293.5 1761.8 298.4 1760.9 300.3C1760.3 301.6 1759.4 301.9 1757.4 302.6C1750.2 305.2 1703.8 306.6 1703.8 309.1C1703.8 311.7 1759.5 313.8 1760.9 317.8C1761.3 319 1759.6 320.6 1757.4 321.7C1750.3 325.3 1703.8 325.3 1703.8 327.1C1703.8 329 1760.9 331.3 1760.9 332.9C1760.9 334.4 1725.5 335.4 1707.3 336.4C1688.3 337.4 1655.6 334.2 1649 338.8C1646.8 340.3 1645.6 343 1646.6 344.6C1649.5 349.6 1704.9 349.1 1704.9 351.1C1704.8 353.8 1590.7 354.9 1590.6 358.1C1590.5 360.8 1648.5 365.1 1670 367.9C1684.8 369.8 1693.8 371.9 1707.3 373.1C1723.3 374.6 1759.8 374 1759.8 375.4C1759.8 376.8 1703.8 379.4 1703.8 381.5C1703.8 383.6 1759.8 385.6 1759.8 387.8C1759.8 390 1708.3 389.7 1703.8 394.8C1702.3 396.4 1705.3 399 1703.8 400.6C1699.2 405.8 1649.5 402.6 1646.6 407.6C1645.6 409.2 1646.8 411.8 1649 413.4C1655.4 418.3 1699 415 1703.8 420.4C1705.5 422.3 1703.8 425.5 1703.8 427.4C1703.8 428.8 1704.7 429.9 1703.8 430.9C1700.1 435 1647.8 434.7 1647.8 436.7C1647.8 438.6 1697.2 437.7 1702.6 442.6C1704.4 444.2 1701.9 446.7 1703.8 448.4C1712.2 455.6 1815.7 452.1 1815.7 454.2C1815.7 456.3 1702.7 458.3 1702.6 460.8C1702.6 462.6 1759.8 464.3 1759.8 466.6C1759.8 469.9 1646.5 475.7 1646.6 478.7C1646.7 481.7 1760.9 482.7 1760.9 484.6C1760.9 487 1590.6 489.3 1590.6 491.6C1590.6 493.5 1704.8 495 1704.9 497.4C1704.9 499.1 1647.8 501.1 1647.8 503.2C1647.8 505.3 1698.3 504 1703.8 510.2C1706.1 512.8 1703.8 516.7 1703.8 520C1703.8 523.4 1704.9 528.2 1703.8 530.5C1703.1 532 1702.5 532.6 1700.3 533.5C1689.4 537.9 1590.7 536.8 1590.6 539.8C1590.5 542.8 1689.3 544.5 1700.3 551.5C1703 553.2 1701.3 555.7 1703.8 557.3C1711.1 562 1759.8 561.5 1759.8 563.6C1759.8 565.7 1703.8 567.7 1703.8 569.7C1703.8 571.7 1760.9 573.7 1760.9 575.5C1760.8 578.1 1646.6 580 1646.6 582.5C1646.6 584.3 1696.6 582.3 1702.6 588.1C1705 590.4 1703.6 594 1703.8 597C1704 600.1 1706 603.9 1703.8 606.3C1698.4 612.3 1647.8 610 1647.8 612.1C1647.8 614.2 1696.1 612.4 1702.6 619.1C1705.8 622.4 1703.9 628.1 1703.8 632C1703.7 635.4 1700.7 638.8 1702.6 641.3C1707.4 647.4 1759.8 646 1759.8 648.3C1759.8 650.6 1707.4 649.2 1702.6 655.3C1700.7 657.8 1703.7 661.2 1703.8 664.6C1703.9 668.8 1699.4 675 1702.6 678.6C1711.6 688.9 1815.7 681.9 1815.7 684C1815.7 686.1 1703.8 688.8 1703.8 691C1703.8 693.2 1815.7 695.7 1815.7 697.3C1815.7 698.9 1702.8 697.7 1702.6 700.8C1702.4 703.1 1759.9 708.3 1759.8 710.6C1759.7 712.9 1707.7 708.7 1702.6 714.8C1700.4 717.4 1703.9 722.2 1703.8 725.3C1703.7 727.9 1701.2 730.4 1702.6 732.3C1706.7 737.8 1759.8 736.7 1759.8 739.3C1759.8 743 1646.8 747.1 1646.6 752.1C1646.4 755.6 1704 761.3 1703.8 763.8C1703.6 766.3 1645.6 764.9 1645.5 767.3C1645.3 769.7 1703.8 774.7 1703.8 778.2C1703.8 781.7 1647.7 785.2 1647.8 788.3C1648 792.7 1731.7 796.9 1763.3 799.9C1785.3 802 1819.2 803.4 1819.2 805C1819.1 807.7 1646.6 809.4 1646.6 812C1646.6 814.1 1760.7 815.6 1760.9 819C1761 821.4 1708.9 823.6 1703.8 827.9C1702.5 829 1703.9 830.3 1702.6 831.4C1697.5 835.6 1645.5 836.8 1645.5 839.6C1645.5 842.4 1703.8 845.7 1703.8 848.4C1703.8 851 1647.7 853.1 1647.8 855.4C1647.9 859.3 1815.7 863 1815.7 866.4C1815.7 869.8 1646.6 872.2 1646.6 875.7C1646.6 878.6 1759.8 882.5 1759.8 885.1C1759.8 887.7 1646.6 889.1 1646.6 891.4C1646.6 893.1 1703.8 894.8 1703.8 896.7C1703.8 898.6 1646.6 900.5 1646.6 902.6C1646.6 904.7 1703.8 907 1703.8 909.1C1703.8 911.1 1646.6 913 1646.6 914.9C1646.6 916.8 1697.9 914 1703.8 920.5C1706.5 923.4 1706.5 929 1703.8 932.2C1697.8 939.4 1645.4 939.2 1645.5 942.7C1645.6 947.6 1759.9 953.3 1759.8 957.8C1759.7 962.2 1647.8 966.1 1647.8 969.5C1647.8 971.9 1703.8 973.7 1703.8 975.8C1703.8 977.8 1647.8 979.7 1647.8 981.8C1647.8 983.8 1697.2 983.1 1702.6 988.1C1704.4 989.8 1702 992.4 1703.8 994C1709.3 999 1759.7 997.3 1759.8 999.8C1759.9 1002.3 1701.4 1006 1701.4 1009.1C1701.4 1012.2 1759.9 1015.9 1759.8 1018.5C1759.7 1021 1703.8 1022.3 1703.8 1024.3C1703.8 1026.3 1759.8 1028.5 1759.8 1030.6C1759.8 1032.7 1708.4 1032 1703.8 1037.1C1702.3 1038.8 1705.3 1041.3 1703.8 1043C1699.2 1048.3 1646.5 1048.5 1646.6 1051.1C1646.7 1054.7 1760.9 1057.6 1760.9 1061.2C1760.9 1064.8 1647.8 1069.4 1647.8 1072.6C1647.8 1074.9 1703.8 1076.4 1703.8 1078.6C1703.8 1081.8 1587 1086.6 1587.1 1089.6C1587.2 1093.3 1763.2 1094.1 1763.3 1097.8C1763.4 1100.8 1646.6 1105.7 1646.6 1108.7C1646.6 1111.7 1760.9 1112.8 1760.9 1115.7C1760.9 1118.6 1646.7 1121.8 1646.6 1126.2C1646.5 1130.6 1756.9 1135.7 1760.9 1142.1C1761.6 1143.2 1761.1 1144.6 1759.8 1145.6C1754.7 1149.8 1706.2 1146.4 1701.4 1152.6C1699.5 1155.1 1702.4 1158.5 1702.6 1161.9C1702.9 1165.8 1699.7 1171.2 1702.6 1174.8C1708.7 1182.4 1760 1184.8 1759.8 1188C1759.6 1191.2 1702.6 1192.2 1702.6 1193.9C1702.7 1196.3 1815.7 1198.2 1815.7 1199.9C1815.7 1202 1657.2 1193 1645.5 1205.1C1642.4 1208.3 1642.8 1213.7 1645.5 1216.7C1651.6 1223.5 1704.9 1221.4 1704.9 1223.7C1704.8 1226.9 1589.5 1230.2 1589.5 1233.1C1589.5 1236.6 1759.8 1239.4 1759.8 1242.4C1759.8 1244.8 1646.6 1246.8 1646.6 1249.4C1646.6 1252.5 1815.7 1256.4 1815.7 1259.9C1815.7 1264 1590.7 1267.6 1590.6 1272.3C1590.6 1276.3 1749.7 1274.7 1759.8 1285.6C1762 1288 1759.8 1291.6 1759.8 1293.7C1759.8 1295.1 1760.8 1296.1 1759.8 1297.2C1752.7 1305.2 1647 1311.6 1590.6 1318.8" fill="none" stroke="#ed7d31" stroke-width="3.3" stroke-linejoin="round" stroke-linecap="round"/>
</g>
<line x1="136.1" y1="1123.1" x2="1982.5" y2="1123.1" stroke="#ff0000" stroke-width="2.9" stroke-dasharray="14.4 11.43"/>
<text x="348.3" y="1115.9" font-size="29" text-anchor="start" font-weight="normal" fill="#808080" textLength="623" lengthAdjust="spacingAndGlyphs">Contact between MCM and AHP formation</text>
<text transform="translate(518.7 598.8) rotate(-90)" x="0" y="0" font-size="43" text-anchor="middle" font-weight="bold" fill="#ff0000" textLength="391.5" lengthAdjust="spacingAndGlyphs">MCM Fm (lower part)</text>
<text transform="translate(528 1244.2) rotate(-90)" x="0" y="0" font-size="43" text-anchor="middle" font-weight="bold" fill="#ff0000" textLength="149.5" lengthAdjust="spacingAndGlyphs">AHP Fm</text>
<line x1="244.6" y1="1422.5" x2="244.6" y2="1781.3" stroke="#d9d9d9" stroke-width="2"/>
<line x1="350.7" y1="1422.5" x2="350.7" y2="1781.3" stroke="#d9d9d9" stroke-width="2"/>
<line x1="456.9" y1="1422.5" x2="456.9" y2="1781.3" stroke="#d9d9d9" stroke-width="2"/>
<line x1="563" y1="1422.5" x2="563" y2="1781.3" stroke="#d9d9d9" stroke-width="2"/>
<line x1="138.4" y1="1721.5" x2="669.2" y2="1721.5" stroke="#d9d9d9" stroke-width="2"/>
<line x1="138.4" y1="1661.7" x2="669.2" y2="1661.7" stroke="#d9d9d9" stroke-width="2"/>
<line x1="138.4" y1="1601.9" x2="669.2" y2="1601.9" stroke="#d9d9d9" stroke-width="2"/>
<line x1="138.4" y1="1542.1" x2="669.2" y2="1542.1" stroke="#d9d9d9" stroke-width="2"/>
<line x1="138.4" y1="1482.3" x2="669.2" y2="1482.3" stroke="#d9d9d9" stroke-width="2"/>
<line x1="669.2" y1="1422.5" x2="669.2" y2="1781.3" stroke="#d9d9d9" stroke-width="2"/>
<line x1="138.4" y1="1422.5" x2="669.2" y2="1422.5" stroke="#d9d9d9" stroke-width="2"/>
<line x1="138.4" y1="1421.5" x2="138.4" y2="1782.3" stroke="#bfbfbf" stroke-width="2"/>
<line x1="137.4" y1="1781.3" x2="670.2" y2="1781.3" stroke="#bfbfbf" stroke-width="2"/>
<text x="111" y="1790.1" font-size="24.9" text-anchor="end" font-weight="normal" fill="#1a1a1a">0</text>
<text x="111" y="1730.3" font-size="24.9" text-anchor="end" font-weight="normal" fill="#1a1a1a">2</text>
<text x="111" y="1670.5" font-size="24.9" text-anchor="end" font-weight="normal" fill="#1a1a1a">4</text>
<text x="111" y="1610.7" font-size="24.9" text-anchor="end" font-weight="normal" fill="#1a1a1a">6</text>
<text x="111" y="1550.9" font-size="24.9" text-anchor="end" font-weight="normal" fill="#1a1a1a">8</text>
<text x="111" y="1491.1" font-size="24.9" text-anchor="end" font-weight="normal" fill="#1a1a1a">10</text>
<text x="111" y="1431.3" font-size="24.9" text-anchor="end" font-weight="normal" fill="#1a1a1a">12</text>
<text x="138.4" y="1826.2" font-size="24.9" text-anchor="middle" font-weight="normal" fill="#1a1a1a">40</text>
<text x="244.6" y="1826.2" font-size="24.9" text-anchor="middle" font-weight="normal" fill="#1a1a1a">50</text>
<text x="350.7" y="1826.2" font-size="24.9" text-anchor="middle" font-weight="normal" fill="#1a1a1a">60</text>
<text x="456.9" y="1826.2" font-size="24.9" text-anchor="middle" font-weight="normal" fill="#1a1a1a">70</text>
<text x="563" y="1826.2" font-size="24.9" text-anchor="middle" font-weight="normal" fill="#1a1a1a">80</text>
<text x="669.2" y="1826.2" font-size="24.9" text-anchor="middle" font-weight="normal" fill="#1a1a1a">90</text>
<text transform="translate(67.2 1602.6) rotate(-90)" x="0" y="0" font-size="34.3" text-anchor="middle" font-weight="bold" fill="#000" textLength="122.5" lengthAdjust="spacingAndGlyphs">U (ppm)</text>
<text x="403.6" y="1875.5" font-size="34.7" text-anchor="middle" font-weight="bold" fill="#000" textLength="143" lengthAdjust="spacingAndGlyphs">SGR (API)</text>
<circle cx="154.5" cy="1691.2" r="5.0" fill="#4472c4"/>
<circle cx="197.5" cy="1562.9" r="5.0" fill="#4472c4"/>
<circle cx="210" cy="1670.8" r="5.0" fill="#4472c4"/>
<circle cx="213.9" cy="1601.4" r="5.0" fill="#4472c4"/>
<circle cx="213.9" cy="1646.3" r="5.0" fill="#4472c4"/>
<circle cx="227.9" cy="1654.9" r="5.0" fill="#4472c4"/>
<circle cx="235.4" cy="1584.1" r="5.0" fill="#4472c4"/>
<circle cx="248.3" cy="1568.7" r="5.0" fill="#4472c4"/>
<circle cx="253" cy="1629" r="5.0" fill="#4472c4"/>
<circle cx="256.9" cy="1613.4" r="5.0" fill="#4472c4"/>
<circle cx="278.4" cy="1598.9" r="5.0" fill="#4472c4"/>
<circle cx="287" cy="1629" r="5.0" fill="#4472c4"/>
<circle cx="287" cy="1637.6" r="5.0" fill="#4472c4"/>
<circle cx="295.1" cy="1565.9" r="5.0" fill="#4472c4"/>
<circle cx="295.1" cy="1623.1" r="5.0" fill="#4472c4"/>
<circle cx="303.5" cy="1574.6" r="5.0" fill="#4472c4"/>
<circle cx="307.7" cy="1619.2" r="5.0" fill="#4472c4"/>
<circle cx="312.4" cy="1634.3" r="5.0" fill="#4472c4"/>
<circle cx="312.4" cy="1637.6" r="5.0" fill="#4472c4"/>
<circle cx="316" cy="1613.4" r="5.0" fill="#4472c4"/>
<circle cx="321.3" cy="1613.4" r="5.0" fill="#4472c4"/>
<circle cx="321.3" cy="1616.1" r="5.0" fill="#4472c4"/>
<circle cx="329.1" cy="1604.7" r="5.0" fill="#4472c4"/>
<circle cx="334.2" cy="1613.4" r="5.0" fill="#4472c4"/>
<circle cx="334.2" cy="1616.1" r="5.0" fill="#4472c4"/>
<circle cx="338.1" cy="1604.7" r="5.0" fill="#4472c4"/>
<circle cx="342" cy="1604.7" r="5.0" fill="#4472c4"/>
<circle cx="342" cy="1607.8" r="5.0" fill="#4472c4"/>
<circle cx="342" cy="1637.6" r="5.0" fill="#4472c4"/>
<circle cx="354.8" cy="1523.8" r="5.0" fill="#4472c4"/>
<circle cx="359.3" cy="1598.9" r="5.0" fill="#4472c4"/>
<circle cx="363.2" cy="1593" r="5.0" fill="#4472c4"/>
<circle cx="372.1" cy="1593" r="5.0" fill="#4472c4"/>
<circle cx="376" cy="1601.6" r="5.0" fill="#4472c4"/>
<circle cx="384.6" cy="1595.8" r="5.0" fill="#4472c4"/>
<circle cx="388.8" cy="1584.1" r="5.0" fill="#4472c4"/>
<circle cx="388.8" cy="1625.9" r="5.0" fill="#4472c4"/>
<circle cx="397.2" cy="1586.9" r="5.0" fill="#4472c4"/>
<circle cx="397.2" cy="1590.2" r="5.0" fill="#4472c4"/>
<circle cx="401.1" cy="1574.6" r="5.0" fill="#4472c4"/>
<circle cx="422.6" cy="1577.1" r="5.0" fill="#4472c4"/>
<circle cx="422.6" cy="1580.7" r="5.0" fill="#4472c4"/>
<circle cx="422.6" cy="1634.8" r="5.0" fill="#4472c4"/>
<circle cx="431.2" cy="1575.1" r="5.0" fill="#4472c4"/>
<circle cx="431.2" cy="1578.5" r="5.0" fill="#4472c4"/>
<circle cx="431.2" cy="1665" r="5.0" fill="#4472c4"/>
<circle cx="447.9" cy="1565.9" r="5.0" fill="#4472c4"/>
<circle cx="456.9" cy="1577.4" r="5.0" fill="#4472c4"/>
<circle cx="461.3" cy="1565.9" r="5.0" fill="#4472c4"/>
<circle cx="461.3" cy="1607.8" r="5.0" fill="#4472c4"/>
<circle cx="461.3" cy="1649.1" r="5.0" fill="#4472c4"/>
<circle cx="465.8" cy="1554.2" r="5.0" fill="#4472c4"/>
<circle cx="465.8" cy="1571.5" r="5.0" fill="#4472c4"/>
<circle cx="478.1" cy="1554.2" r="5.0" fill="#4472c4"/>
<circle cx="478.1" cy="1571.5" r="5.0" fill="#4472c4"/>
<circle cx="482.8" cy="1557" r="5.0" fill="#4472c4"/>
<circle cx="487" cy="1552" r="5.0" fill="#4472c4"/>
<circle cx="499.5" cy="1554.2" r="5.0" fill="#4472c4"/>
<circle cx="503.7" cy="1560.1" r="5.0" fill="#4472c4"/>
<circle cx="508.2" cy="1541.4" r="5.0" fill="#4472c4"/>
<circle cx="512.1" cy="1544.2" r="5.0" fill="#4472c4"/>
<circle cx="521.3" cy="1545" r="5.0" fill="#4472c4"/>
<circle cx="521.3" cy="1593" r="5.0" fill="#4472c4"/>
<circle cx="521.3" cy="1629" r="5.0" fill="#4472c4"/>
<circle cx="525.2" cy="1541.4" r="5.0" fill="#4472c4"/>
<circle cx="529.1" cy="1560.1" r="5.0" fill="#4472c4"/>
<circle cx="529.1" cy="1565.9" r="5.0" fill="#4472c4"/>
<circle cx="541.7" cy="1545.3" r="5.0" fill="#4472c4"/>
<circle cx="550.6" cy="1530" r="5.0" fill="#4472c4"/>
<circle cx="567.9" cy="1526.9" r="5.0" fill="#4472c4"/>
<circle cx="580.7" cy="1568.7" r="5.0" fill="#4472c4"/>
<circle cx="588.5" cy="1548.4" r="5.0" fill="#4472c4"/>
<circle cx="609.7" cy="1523.8" r="5.0" fill="#4472c4"/>
<line x1="167.1" y1="1678.3" x2="651" y2="1497.6" stroke="#939393" stroke-width="2.6" stroke-dasharray="14 7"/>
<line x1="895" y1="1422.6" x2="895" y2="1781.2" stroke="#d9d9d9" stroke-width="2"/>
<line x1="1000.8" y1="1422.6" x2="1000.8" y2="1781.2" stroke="#d9d9d9" stroke-width="2"/>
<line x1="1106.7" y1="1422.6" x2="1106.7" y2="1781.2" stroke="#d9d9d9" stroke-width="2"/>
<line x1="1212.5" y1="1422.6" x2="1212.5" y2="1781.2" stroke="#d9d9d9" stroke-width="2"/>
<line x1="789.2" y1="1721.4" x2="1318.3" y2="1721.4" stroke="#d9d9d9" stroke-width="2"/>
<line x1="789.2" y1="1661.7" x2="1318.3" y2="1661.7" stroke="#d9d9d9" stroke-width="2"/>
<line x1="789.2" y1="1601.9" x2="1318.3" y2="1601.9" stroke="#d9d9d9" stroke-width="2"/>
<line x1="789.2" y1="1542.1" x2="1318.3" y2="1542.1" stroke="#d9d9d9" stroke-width="2"/>
<line x1="789.2" y1="1482.4" x2="1318.3" y2="1482.4" stroke="#d9d9d9" stroke-width="2"/>
<line x1="1318.3" y1="1422.6" x2="1318.3" y2="1781.2" stroke="#d9d9d9" stroke-width="2"/>
<line x1="789.2" y1="1422.6" x2="1318.3" y2="1422.6" stroke="#d9d9d9" stroke-width="2"/>
<line x1="789.2" y1="1421.6" x2="789.2" y2="1782.2" stroke="#bfbfbf" stroke-width="2"/>
<line x1="788.2" y1="1781.2" x2="1319.3" y2="1781.2" stroke="#bfbfbf" stroke-width="2"/>
<text x="761.4" y="1790" font-size="24.9" text-anchor="end" font-weight="normal" fill="#1a1a1a">0</text>
<text x="761.4" y="1730.2" font-size="24.9" text-anchor="end" font-weight="normal" fill="#1a1a1a">0.5</text>
<text x="761.4" y="1670.5" font-size="24.9" text-anchor="end" font-weight="normal" fill="#1a1a1a">1</text>
<text x="761.4" y="1610.7" font-size="24.9" text-anchor="end" font-weight="normal" fill="#1a1a1a">1.5</text>
<text x="761.4" y="1550.9" font-size="24.9" text-anchor="end" font-weight="normal" fill="#1a1a1a">2</text>
<text x="761.4" y="1491.2" font-size="24.9" text-anchor="end" font-weight="normal" fill="#1a1a1a">2.5</text>
<text x="761.4" y="1431.4" font-size="24.9" text-anchor="end" font-weight="normal" fill="#1a1a1a">3</text>
<text x="789.2" y="1826.2" font-size="24.9" text-anchor="middle" font-weight="normal" fill="#1a1a1a">40</text>
<text x="895" y="1826.2" font-size="24.9" text-anchor="middle" font-weight="normal" fill="#1a1a1a">50</text>
<text x="1000.8" y="1826.2" font-size="24.9" text-anchor="middle" font-weight="normal" fill="#1a1a1a">60</text>
<text x="1106.7" y="1826.2" font-size="24.9" text-anchor="middle" font-weight="normal" fill="#1a1a1a">70</text>
<text x="1212.5" y="1826.2" font-size="24.9" text-anchor="middle" font-weight="normal" fill="#1a1a1a">80</text>
<text x="1318.3" y="1826.2" font-size="24.9" text-anchor="middle" font-weight="normal" fill="#1a1a1a">90</text>
<text transform="translate(710.3 1603.4) rotate(-90)" x="0" y="0" font-size="34.3" text-anchor="middle" font-weight="bold" fill="#000" textLength="138" lengthAdjust="spacingAndGlyphs">Th (ppm)</text>
<text x="1054" y="1875.5" font-size="34.7" text-anchor="middle" font-weight="bold" fill="#000" textLength="143" lengthAdjust="spacingAndGlyphs">SGR (API)</text>
<circle cx="805.2" cy="1589.9" r="5.0" fill="#4472c4"/>
<circle cx="847.8" cy="1613.5" r="5.0" fill="#4472c4"/>
<circle cx="860.7" cy="1601.7" r="5.0" fill="#4472c4"/>
<circle cx="864.9" cy="1685.4" r="5.0" fill="#4472c4"/>
<circle cx="877.1" cy="1626.1" r="5.0" fill="#4472c4"/>
<circle cx="886.2" cy="1554.2" r="5.0" fill="#4472c4"/>
<circle cx="898.7" cy="1601.7" r="5.0" fill="#4472c4"/>
<circle cx="902.9" cy="1673.6" r="5.0" fill="#4472c4"/>
<circle cx="908.6" cy="1673.6" r="5.0" fill="#4472c4"/>
<circle cx="928.8" cy="1637.9" r="5.0" fill="#4472c4"/>
<circle cx="937.1" cy="1601.7" r="5.0" fill="#4472c4"/>
<circle cx="937.1" cy="1626.1" r="5.0" fill="#4472c4"/>
<circle cx="945.5" cy="1649.7" r="5.0" fill="#4472c4"/>
<circle cx="945.5" cy="1673.6" r="5.0" fill="#4472c4"/>
<circle cx="954.3" cy="1673.6" r="5.0" fill="#4472c4"/>
<circle cx="958.1" cy="1637.9" r="5.0" fill="#4472c4"/>
<circle cx="962.6" cy="1637.9" r="5.0" fill="#4472c4"/>
<circle cx="962.3" cy="1577.8" r="5.0" fill="#4472c4"/>
<circle cx="967.2" cy="1661.8" r="5.0" fill="#4472c4"/>
<circle cx="971" cy="1626.1" r="5.0" fill="#4472c4"/>
<circle cx="971" cy="1649.7" r="5.0" fill="#4472c4"/>
<circle cx="979.4" cy="1649.7" r="5.0" fill="#4472c4"/>
<circle cx="983.5" cy="1613.5" r="5.0" fill="#4472c4"/>
<circle cx="983.5" cy="1637.9" r="5.0" fill="#4472c4"/>
<circle cx="992.7" cy="1637.9" r="5.0" fill="#4472c4"/>
<circle cx="988.1" cy="1673.6" r="5.0" fill="#4472c4"/>
<circle cx="992.3" cy="1577.8" r="5.0" fill="#4472c4"/>
<circle cx="992.3" cy="1709.7" r="5.0" fill="#4472c4"/>
<circle cx="1005.2" cy="1709.7" r="5.0" fill="#4472c4"/>
<circle cx="1009" cy="1661.8" r="5.0" fill="#4472c4"/>
<circle cx="1013.6" cy="1697.2" r="5.0" fill="#4472c4"/>
<circle cx="1017.4" cy="1721.5" r="5.0" fill="#4472c4"/>
<circle cx="1022" cy="1673.6" r="5.0" fill="#4472c4"/>
<circle cx="1026.5" cy="1637.9" r="5.0" fill="#4472c4"/>
<circle cx="1034.5" cy="1566" r="5.0" fill="#4472c4"/>
<circle cx="1038.7" cy="1577.8" r="5.0" fill="#4472c4"/>
<circle cx="1038.7" cy="1649.7" r="5.0" fill="#4472c4"/>
<circle cx="1048.2" cy="1649.7" r="5.0" fill="#4472c4"/>
<circle cx="1047.8" cy="1554.2" r="5.0" fill="#4472c4"/>
<circle cx="1051.6" cy="1733.3" r="5.0" fill="#4472c4"/>
<circle cx="1072.9" cy="1649.7" r="5.0" fill="#4472c4"/>
<circle cx="1072.9" cy="1661.8" r="5.0" fill="#4472c4"/>
<circle cx="1072.9" cy="1673.6" r="5.0" fill="#4472c4"/>
<circle cx="1080.9" cy="1601.7" r="5.0" fill="#4472c4"/>
<circle cx="1080.9" cy="1626.1" r="5.0" fill="#4472c4"/>
<circle cx="1080.9" cy="1637.9" r="5.0" fill="#4472c4"/>
<circle cx="1098.4" cy="1673.6" r="5.0" fill="#4472c4"/>
<circle cx="1106" cy="1601.7" r="5.0" fill="#4472c4"/>
<circle cx="1111.7" cy="1601.7" r="5.0" fill="#4472c4"/>
<circle cx="1111" cy="1637.9" r="5.0" fill="#4472c4"/>
<circle cx="1111" cy="1661.8" r="5.0" fill="#4472c4"/>
<circle cx="1111" cy="1685.4" r="5.0" fill="#4472c4"/>
<circle cx="1114.8" cy="1566" r="5.0" fill="#4472c4"/>
<circle cx="1114.8" cy="1577.8" r="5.0" fill="#4472c4"/>
<circle cx="1127.7" cy="1541.6" r="5.0" fill="#4472c4"/>
<circle cx="1127.7" cy="1637.9" r="5.0" fill="#4472c4"/>
<circle cx="1136.8" cy="1637.9" r="5.0" fill="#4472c4"/>
<circle cx="1132.6" cy="1649.7" r="5.0" fill="#4472c4"/>
<circle cx="1136.8" cy="1613.5" r="5.0" fill="#4472c4"/>
<circle cx="1149.4" cy="1673.6" r="5.0" fill="#4472c4"/>
<circle cx="1153.2" cy="1566" r="5.0" fill="#4472c4"/>
<circle cx="1157.7" cy="1649.7" r="5.0" fill="#4472c4"/>
<circle cx="1162.3" cy="1661.8" r="5.0" fill="#4472c4"/>
<circle cx="1170.7" cy="1577.8" r="5.0" fill="#4472c4"/>
<circle cx="1170.7" cy="1626.1" r="5.0" fill="#4472c4"/>
<circle cx="1170.7" cy="1637.9" r="5.0" fill="#4472c4"/>
<circle cx="1174.9" cy="1601.7" r="5.0" fill="#4472c4"/>
<circle cx="1178.3" cy="1494.1" r="5.0" fill="#4472c4"/>
<circle cx="1178.3" cy="1541.6" r="5.0" fill="#4472c4"/>
<circle cx="1191.2" cy="1577.8" r="5.0" fill="#4472c4"/>
<circle cx="1200" cy="1626.1" r="5.0" fill="#4472c4"/>
<circle cx="1217.5" cy="1649.7" r="5.0" fill="#4472c4"/>
<circle cx="1230" cy="1661.8" r="5.0" fill="#4472c4"/>
<circle cx="1238" cy="1470.5" r="5.0" fill="#4472c4"/>
<circle cx="1259.3" cy="1554.2" r="5.0" fill="#4472c4"/>
<line x1="1543.4" y1="1422.4" x2="1543.4" y2="1780.4" stroke="#d9d9d9" stroke-width="2"/>
<line x1="1649.3" y1="1422.4" x2="1649.3" y2="1780.4" stroke="#d9d9d9" stroke-width="2"/>
<line x1="1755.3" y1="1422.4" x2="1755.3" y2="1780.4" stroke="#d9d9d9" stroke-width="2"/>
<line x1="1861.2" y1="1422.4" x2="1861.2" y2="1780.4" stroke="#d9d9d9" stroke-width="2"/>
<line x1="1437.5" y1="1720.7" x2="1967.1" y2="1720.7" stroke="#d9d9d9" stroke-width="2"/>
<line x1="1437.5" y1="1661.1" x2="1967.1" y2="1661.1" stroke="#d9d9d9" stroke-width="2"/>
<line x1="1437.5" y1="1601.4" x2="1967.1" y2="1601.4" stroke="#d9d9d9" stroke-width="2"/>
<line x1="1437.5" y1="1541.7" x2="1967.1" y2="1541.7" stroke="#d9d9d9" stroke-width="2"/>
<line x1="1437.5" y1="1482.1" x2="1967.1" y2="1482.1" stroke="#d9d9d9" stroke-width="2"/>
<line x1="1967.1" y1="1422.4" x2="1967.1" y2="1780.4" stroke="#d9d9d9" stroke-width="2"/>
<line x1="1437.5" y1="1422.4" x2="1967.1" y2="1422.4" stroke="#d9d9d9" stroke-width="2"/>
<line x1="1437.5" y1="1421.4" x2="1437.5" y2="1781.4" stroke="#bfbfbf" stroke-width="2"/>
<line x1="1436.5" y1="1780.4" x2="1968.1" y2="1780.4" stroke="#bfbfbf" stroke-width="2"/>
<text x="1410.6" y="1789.2" font-size="24.9" text-anchor="end" font-weight="normal" fill="#1a1a1a">0.2</text>
<text x="1410.6" y="1729.5" font-size="24.9" text-anchor="end" font-weight="normal" fill="#1a1a1a">0.3</text>
<text x="1410.6" y="1669.9" font-size="24.9" text-anchor="end" font-weight="normal" fill="#1a1a1a">0.4</text>
<text x="1410.6" y="1610.2" font-size="24.9" text-anchor="end" font-weight="normal" fill="#1a1a1a">0.5</text>
<text x="1410.6" y="1550.5" font-size="24.9" text-anchor="end" font-weight="normal" fill="#1a1a1a">0.6</text>
<text x="1410.6" y="1490.9" font-size="24.9" text-anchor="end" font-weight="normal" fill="#1a1a1a">0.7</text>
<text x="1410.6" y="1431.2" font-size="24.9" text-anchor="end" font-weight="normal" fill="#1a1a1a">0.8</text>
<text x="1437.5" y="1826.2" font-size="24.9" text-anchor="middle" font-weight="normal" fill="#1a1a1a">40</text>
<text x="1543.4" y="1826.2" font-size="24.9" text-anchor="middle" font-weight="normal" fill="#1a1a1a">50</text>
<text x="1649.3" y="1826.2" font-size="24.9" text-anchor="middle" font-weight="normal" fill="#1a1a1a">60</text>
<text x="1755.3" y="1826.2" font-size="24.9" text-anchor="middle" font-weight="normal" fill="#1a1a1a">70</text>
<text x="1861.2" y="1826.2" font-size="24.9" text-anchor="middle" font-weight="normal" fill="#1a1a1a">80</text>
<text x="1967.1" y="1826.2" font-size="24.9" text-anchor="middle" font-weight="normal" fill="#1a1a1a">90</text>
<text transform="translate(1359.7 1601.9) rotate(-90)" x="0" y="0" font-size="34.3" text-anchor="middle" font-weight="bold" fill="#000" textLength="76" lengthAdjust="spacingAndGlyphs">K (%)</text>
<text x="1702" y="1875.5" font-size="34.7" text-anchor="middle" font-weight="bold" fill="#000" textLength="143" lengthAdjust="spacingAndGlyphs">SGR (API)</text>
<circle cx="1454.4" cy="1482.3" r="5.0" fill="#4472c4"/>
<circle cx="1509" cy="1482.3" r="5.0" fill="#4472c4"/>
<circle cx="1611.7" cy="1482.3" r="5.0" fill="#4472c4"/>
<circle cx="1526.6" cy="1541.6" r="5.0" fill="#4472c4"/>
<circle cx="1586.2" cy="1541.6" r="5.0" fill="#4472c4"/>
<circle cx="1633.2" cy="1541.6" r="5.0" fill="#4472c4"/>
<circle cx="1641.1" cy="1541.6" r="5.0" fill="#4472c4"/>
<circle cx="1666.2" cy="1541.6" r="5.0" fill="#4472c4"/>
<circle cx="1675.2" cy="1541.6" r="5.0" fill="#4472c4"/>
<circle cx="1721.9" cy="1541.6" r="5.0" fill="#4472c4"/>
<circle cx="1730.9" cy="1541.6" r="5.0" fill="#4472c4"/>
<circle cx="1756" cy="1541.6" r="5.0" fill="#4472c4"/>
<circle cx="1760.7" cy="1541.6" r="5.0" fill="#4472c4"/>
<circle cx="1797.7" cy="1541.6" r="5.0" fill="#4472c4"/>
<circle cx="1827.8" cy="1541.6" r="5.0" fill="#4472c4"/>
<circle cx="1878.8" cy="1541.6" r="5.0" fill="#4472c4"/>
<circle cx="1887.4" cy="1541.6" r="5.0" fill="#4472c4"/>
<circle cx="1514" cy="1601.9" r="5.0" fill="#4472c4"/>
<circle cx="1547.8" cy="1601.9" r="5.0" fill="#4472c4"/>
<circle cx="1556" cy="1601.9" r="5.0" fill="#4472c4"/>
<circle cx="1577.2" cy="1601.9" r="5.0" fill="#4472c4"/>
<circle cx="1586.2" cy="1601.9" r="5.0" fill="#4472c4"/>
<circle cx="1593.7" cy="1601.9" r="5.0" fill="#4472c4"/>
<circle cx="1602.7" cy="1601.9" r="5.0" fill="#4472c4"/>
<circle cx="1607.4" cy="1601.9" r="5.0" fill="#4472c4"/>
<circle cx="1616" cy="1601.9" r="5.0" fill="#4472c4"/>
<circle cx="1620.6" cy="1601.9" r="5.0" fill="#4472c4"/>
<circle cx="1632.5" cy="1601.9" r="5.0" fill="#4472c4"/>
<circle cx="1636.8" cy="1601.9" r="5.0" fill="#4472c4"/>
<circle cx="1641.1" cy="1601.9" r="5.0" fill="#4472c4"/>
<circle cx="1658" cy="1601.9" r="5.0" fill="#4472c4"/>
<circle cx="1662.7" cy="1601.9" r="5.0" fill="#4472c4"/>
<circle cx="1671.6" cy="1601.9" r="5.0" fill="#4472c4"/>
<circle cx="1696.1" cy="1601.9" r="5.0" fill="#4472c4"/>
<circle cx="1700.4" cy="1601.9" r="5.0" fill="#4472c4"/>
<circle cx="1721.9" cy="1601.9" r="5.0" fill="#4472c4"/>
<circle cx="1730.9" cy="1601.9" r="5.0" fill="#4472c4"/>
<circle cx="1747" cy="1601.9" r="5.0" fill="#4472c4"/>
<circle cx="1759.6" cy="1601.9" r="5.0" fill="#4472c4"/>
<circle cx="1764.3" cy="1601.9" r="5.0" fill="#4472c4"/>
<circle cx="1777.6" cy="1601.9" r="5.0" fill="#4472c4"/>
<circle cx="1782.2" cy="1601.9" r="5.0" fill="#4472c4"/>
<circle cx="1802" cy="1601.9" r="5.0" fill="#4472c4"/>
<circle cx="1811" cy="1601.9" r="5.0" fill="#4472c4"/>
<circle cx="1819.2" cy="1601.9" r="5.0" fill="#4472c4"/>
<circle cx="1840.8" cy="1601.9" r="5.0" fill="#4472c4"/>
<circle cx="1865.9" cy="1601.9" r="5.0" fill="#4472c4"/>
<circle cx="1909" cy="1601.9" r="5.0" fill="#4472c4"/>
<circle cx="1496.4" cy="1661.9" r="5.0" fill="#4472c4"/>
<circle cx="1535.5" cy="1661.9" r="5.0" fill="#4472c4"/>
<circle cx="1552.4" cy="1661.9" r="5.0" fill="#4472c4"/>
<circle cx="1594.4" cy="1661.9" r="5.0" fill="#4472c4"/>
<circle cx="1611.7" cy="1661.9" r="5.0" fill="#4472c4"/>
<circle cx="1627.8" cy="1661.9" r="5.0" fill="#4472c4"/>
<circle cx="1683.5" cy="1661.9" r="5.0" fill="#4472c4"/>
<circle cx="1688.2" cy="1661.9" r="5.0" fill="#4472c4"/>
<circle cx="1721.9" cy="1661.9" r="5.0" fill="#4472c4"/>
<circle cx="1777.6" cy="1661.9" r="5.0" fill="#4472c4"/>
<circle cx="1785.5" cy="1661.9" r="5.0" fill="#4472c4"/>
<circle cx="1806.6" cy="1661.9" r="5.0" fill="#4472c4"/>
<circle cx="1823.5" cy="1661.9" r="5.0" fill="#4472c4"/>
<circle cx="1849.4" cy="1661.9" r="5.0" fill="#4472c4"/>
<circle cx="1653.7" cy="1721.1" r="5.0" fill="#4472c4"/>
<text y="49.7" font-size="36.5" fill="#000"><tspan x="11.0" font-size="43.6">(</tspan><tspan x="26.9">a</tspan><tspan x="51.2" font-size="43.6">)</tspan></text>
<text y="1435.3" font-size="43" fill="#000"><tspan x="8.3" font-size="43.2">(</tspan><tspan x="23.2">b</tspan><tspan x="49.0" font-size="43.2">)</tspan></text>
<line x1="3.4" y1="4.8" x2="2007.6" y2="4.8" stroke="#000" stroke-width="2.7" stroke-dasharray="12.6 10.29" stroke-dashoffset="6.5"/>
<line x1="4.8" y1="3.4" x2="4.8" y2="1388" stroke="#000" stroke-width="2.7" stroke-dasharray="12.6 10.29" stroke-dashoffset="3.4"/>
<line x1="3.4" y1="1386.6" x2="2008" y2="1386.6" stroke="#000" stroke-width="2.7" stroke-dasharray="12.6 10.29" stroke-dashoffset="21.2"/>
<line x1="2006.3" y1="3.4" x2="2006.3" y2="1388" stroke="#000" stroke-width="2.7" stroke-dasharray="12.6 10.29" stroke-dashoffset="16.1"/>
<line x1="3.4" y1="1391.6" x2="2004.5" y2="1391.6" stroke="#000" stroke-width="2.7" stroke-dasharray="12.6 10.29" stroke-dashoffset="1.5"/>
<line x1="4.8" y1="1390.2" x2="4.8" y2="1906.3" stroke="#000" stroke-width="2.7" stroke-dasharray="12.6 10.29" stroke-dashoffset="21.2"/>
<line x1="2003.1" y1="1390.2" x2="2003.1" y2="1906.3" stroke="#000" stroke-width="2.7" stroke-dasharray="12.6 10.29" stroke-dashoffset="8.4"/>
<line x1="3.4" y1="1904.9" x2="2004.5" y2="1904.9" stroke="#000" stroke-width="2.7" stroke-dasharray="12.6 10.29" stroke-dashoffset="8.1"/>
</svg></div></body></html>
